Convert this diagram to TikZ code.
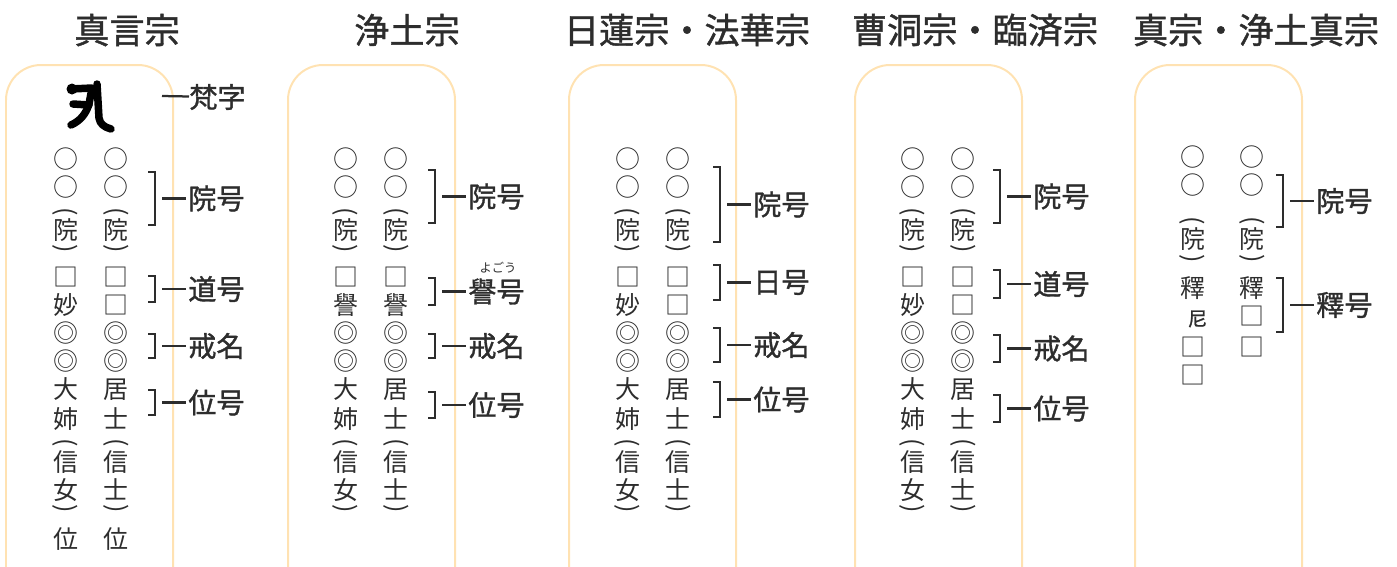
\documentclass[tikz,border=0pt]{standalone}
\usepackage{fontspec}
\setmainfont{Noto Sans CJK JP}[BoldFont=Noto Sans CJK JP,BoldFeatures={FakeBold=1.2}]
\usetikzlibrary{matrix,positioning}

\definecolor{ink}{RGB}{45,45,45}
\definecolor{tabletline}{RGB}{255,226,178}

% vertical brackets
\newcommand\tateL{\rotatebox{-90}{(}}
\newcommand\tateR{\rotatebox{-90}{)}}

\begin{document}
\begin{tikzpicture}[x=0.02cm,y=-0.02cm,
  tate/.style={matrix of nodes,anchor=north west,inner sep=0pt,column sep=0.5cm,
    nodes={inner sep=0pt,minimum width=0.5cm,minimum height=0.56cm,text=ink,
      font=\fontsize{14.2}{14.2}\selectfont}},
  kakkoL/.style={nodes={minimum height=0.3cm,text height=0pt,text depth=0.05cm}},
  kakkoR/.style={nodes={minimum height=0.3cm,text height=0pt,text depth=0.29cm}},
  kakkoVL/.style={nodes={minimum height=0.42cm,text height=0.07cm,text depth=0pt}},
  kakkoVR/.style={nodes={minimum height=0.42cm,text height=0pt,text depth=0.37cm}},
  tablet/.style={draw=tabletline,line width=0.04cm,rounded corners=0.7cm},
  title/.style={text=ink,font=\fontsize{20}{20}\selectfont\bfseries},
  lbl/.style={anchor=west,inner sep=0pt,text=ink,font=\fontsize{16}{16}\selectfont\bfseries},
  brk/.style={draw=ink,line width=0.045cm},
  bonji/.style={draw=black,line width=0.15cm,line cap=round,line join=round}]
\useasboundingbox (0,0) rectangle (1397,566);

% tablets
\foreach \x in {6,288,569,855,1135}
  \draw[tablet] (\x,580) -- (\x,65) -- ++(167,0) -- ++(0,515);

% titles
\node[title] (t-shingon) at (127,30) {真言宗};
\node[title] (t-jodo) at (407,30) {浄土宗};
\node[title] (t-nichiren) at (687,30) {日蓮宗・法華宗};
\node[title] (t-zen) at (975,30) {曹洞宗・臨済宗};
\node[title] (t-shin) at (1256,30) {真宗・浄土真宗};

% bonji
\draw[bonji] (71,89) -- (92,88) -- (89,104) .. controls (86,114) and (80,121) .. (71,125);
\draw[bonji] (73,104) -- (89,105);
\draw[bonji] (97,84) -- (99,118) .. controls (100,124) and (104,127) .. (111,129);
\fill (72,89) circle (0.11cm);
\coordinate (sg-b0) at (162,96);
\node[lbl] (sg-l0) at (189,97) {梵字};
\draw[brk] (sg-b0) -- (sg-l0);

\matrix (shingon) [tate,row 3/.style=kakkoL,row 5/.style=kakkoR,row 12/.style=kakkoL,row 15/.style=kakkoR] at (52.5,145)
{
○ & ○ \\
○ & ○ \\
\tateL & \tateL \\
院 & 院 \\
\tateR & \tateR \\[0.08cm]
□ & □ \\
妙 & □ \\
◎ & ◎ \\
◎ & ◎ \\
大 & 居 \\
姉 & 士 \\
\tateL & \tateL \\
信 & 信 \\
女 & 士 \\
\tateR & \tateR \\[0.12cm]
位 & 位 \\
};

\matrix (jodo) [tate,row 3/.style=kakkoL,row 5/.style=kakkoR,row 12/.style=kakkoL,row 15/.style=kakkoR] at (332.5,145)
{
○ & ○ \\
○ & ○ \\
\tateL & \tateL \\
院 & 院 \\
\tateR & \tateR \\[0.08cm]
□ & □ \\
譽 & 譽 \\
◎ & ◎ \\
◎ & ◎ \\
大 & 居 \\
姉 & 士 \\
\tateL & \tateL \\
信 & 信 \\
女 & 士 \\
\tateR & \tateR \\
};
\node[text=ink,font=\fontsize{7}{7}\selectfont] (jd-ruby) at (498,268) {よごう};

\matrix (nichiren) [tate,row 3/.style=kakkoL,row 5/.style=kakkoR,row 12/.style=kakkoL,row 15/.style=kakkoR] at (614.5,145)
{
○ & ○ \\
○ & ○ \\
\tateL & \tateL \\
院 & 院 \\
\tateR & \tateR \\[0.08cm]
□ & □ \\
妙 & □ \\
◎ & ◎ \\
◎ & ◎ \\
大 & 居 \\
姉 & 士 \\
\tateL & \tateL \\
信 & 信 \\
女 & 士 \\
\tateR & \tateR \\
};

\matrix (zen) [tate,row 3/.style=kakkoL,row 5/.style=kakkoR,row 12/.style=kakkoL,row 15/.style=kakkoR] at (899.5,145)
{
○ & ○ \\
○ & ○ \\
\tateL & \tateL \\
院 & 院 \\
\tateR & \tateR \\[0.08cm]
□ & □ \\
妙 & □ \\
◎ & ◎ \\
◎ & ◎ \\
大 & 居 \\
姉 & 士 \\
\tateL & \tateL \\
信 & 信 \\
女 & 士 \\
\tateR & \tateR \\
};

\matrix (shin) [tate,column sep=0.64cm,row 3/.style=kakkoVL,row 5/.style=kakkoVR] at (1177.5,143)
{
○ & ○ \\
○ & ○ \\[0.1cm]
\tateL & \tateL \\
院 & 院 \\
\tateR & \tateR \\
釋 & 釋 \\
|[font=\fontsize{11}{11}\selectfont\bfseries]| \hspace{0.2cm}尼 & □ \\
□ & □ \\
□ & \\
};

% brackets and labels
\foreach \p/\bx/\ya/\yb/\t in {sg/155/172/225/院号, sg/155/276/302/道号, sg/155/334/358/戒名, sg/155/390/415/位号,
  jd/435/170/223/院号, jd/435/278/305/譽号, jd/435/334/358/戒名, jd/435/392/418/位号,
  nc/720/167/242/院号, nc/720/265/300/日号, nc/720/328/362/戒名, nc/720/382/417/位号,
  zn/1000/170/223/院号, zn/1000/270/298/道号, zn/1000/335/362/戒名, zn/1000/395/422/位号,
  sh/1283/175/227/院号, sh/1283/278/332/釋号}
{
  \draw[brk] (\bx-7,\ya) -- (\bx,\ya) -- (\bx,\yb) -- (\bx-7,\yb);
  \coordinate (\p-b\ya) at (\bx+7,{(\ya+\yb)/2});
  \node[lbl] (\p-l\ya) at (\bx+33,{(\ya+\yb)/2}) {\t};
  \draw[brk,shorten >=0.05cm] (\p-b\ya) -- (\p-l\ya);
}
\end{tikzpicture}
\end{document}
